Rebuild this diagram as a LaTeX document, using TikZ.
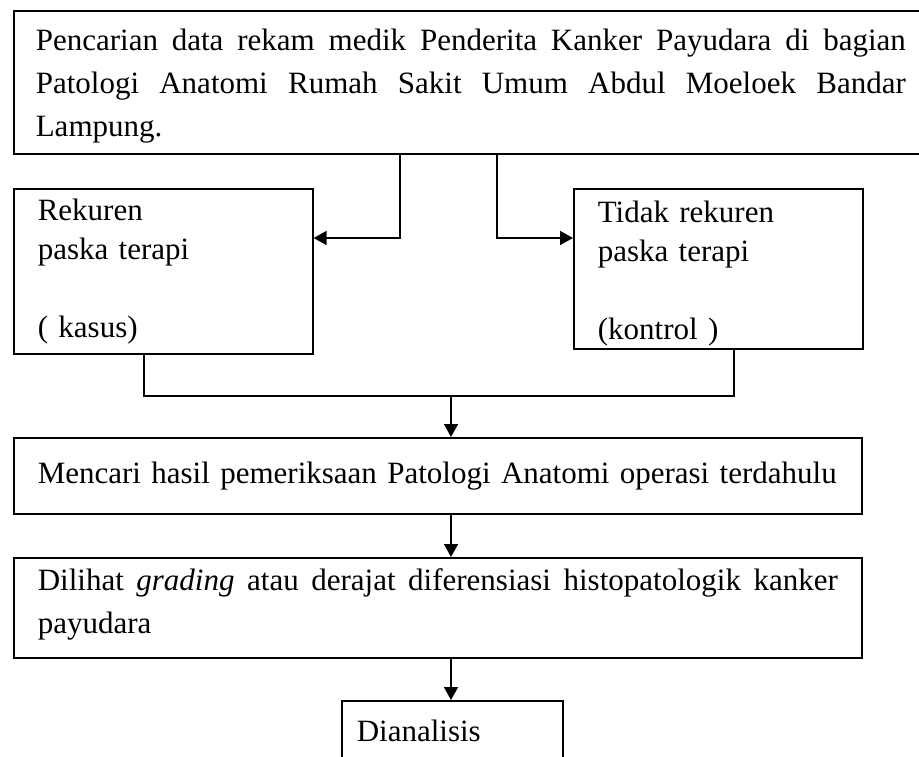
\documentclass[tikz,border=0pt]{standalone}
\usepackage{fontspec}
\setmainfont{Liberation Serif}
\usepackage{tikz}
\usetikzlibrary{arrows.meta}
\tikzset{
  box/.style={draw, line width=0.8pt, anchor=north west, inner ysep=0pt,
    font=\fontsize{15.5}{21.5}\selectfont},
  arrow/.style={line width=0.8pt, -{Triangle[length=6.5pt,width=7pt]}},
  link/.style={line width=0.8pt},
}

\begin{document}
\begin{tikzpicture}[x=0.5pt,y=-0.5pt]
\useasboundingbox (0,0) rectangle (919,756);

%search records
\node[box, inner xsep=11pt, text width=435pt, minimum height=71.5pt, align=justify] (pencarian) at (13,10)
  {\rule{0pt}{15pt}Pencarian data rekam medik Penderita Kanker Payudara di bagian\linebreak
   Patologi Anatomi Rumah Sakit Umum Abdul Moeloek Bandar\linebreak Lampung.};

%cases and controls
\node[box, inner xsep=12pt, text width=125.5pt, minimum height=82.5pt, align=left,
  font=\fontsize{15.5}{19.5}\selectfont] (rekuren) at (13,188)
  {Rekuren\\paska terapi\\[19.5pt]( kasus)};
\node[box, inner xsep=12pt, text width=120.5pt, minimum height=80pt, align=left,
  font=\fontsize{15.5}{19.5}\selectfont] (tidak) at (573,188)
  {\rule{0pt}{15pt}Tidak rekuren\\paska terapi\\[19.5pt](kontrol )};

\coordinate (splitL) at (400,238);
\coordinate (splitR) at (497,238);
\draw[arrow] (pencarian.south -| splitL) -- (splitL) -- (splitL -| rekuren.east);
\draw[arrow] (pencarian.south -| splitR) -- (splitR) -- (splitR -| tidak.west);

%pathology results
\node[box, inner xsep=12pt, text width=400pt, minimum height=38pt, align=left] (mencari) at (13,437)
  {Mencari hasil pemeriksaan Patologi Anatomi operasi terdahulu\hspace*{-10pt}};

\coordinate (joinL) at (144,396);
\coordinate (joinM) at (451,396);
\coordinate (joinR) at (734,396);
\draw[link] (rekuren.south -| joinL) -- (joinL) -- (joinR) -- (tidak.south -| joinR);
\draw[arrow] (joinM) -- (joinM |- mencari.north);

%grading
\node[box, inner xsep=12pt, text width=400pt, minimum height=50pt, align=justify] (dilihat) at (13,557)
  {Dilihat \textit{grading} atau derajat diferensiasi histopatologik kanker\linebreak
   payudara\rule[-7pt]{0pt}{0pt}};
\draw[arrow] (mencari.south -| joinM) -- (dilihat.north -| joinM);

%analysis
\node[box, inner xsep=7.5pt, text width=95.5pt, minimum height=30pt, align=left] (dianalisis) at (341,700)
  {Dianalisis};
\draw[arrow] (dilihat.south -| joinM) -- (dianalisis.north -| joinM);

\end{tikzpicture}
\end{document}
